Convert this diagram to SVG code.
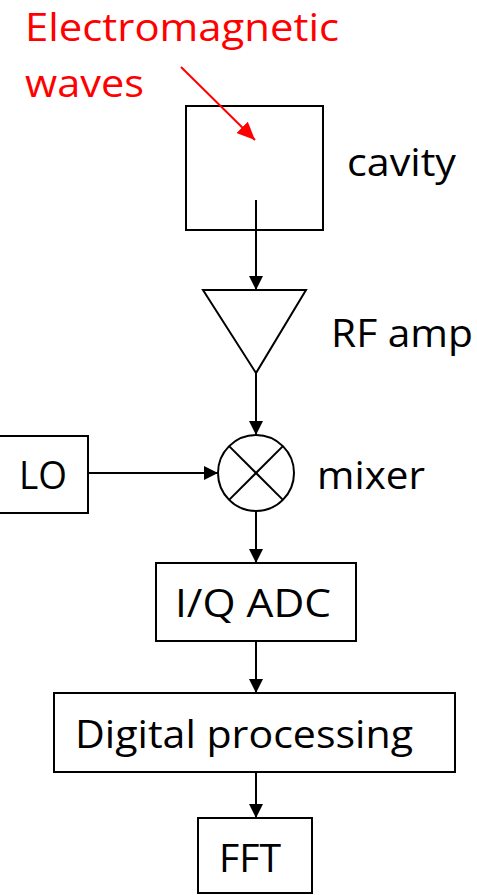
<svg xmlns="http://www.w3.org/2000/svg" width="477" height="895" viewBox="0 0 477 895">
<defs>
<style>
.box{fill:#fff;stroke:#000;stroke-width:2}
.ln{fill:none;stroke:#000;stroke-width:2}
.lbl{font-family:"Open Sans",Lato,"Liberation Sans",sans-serif;font-size:39px;fill:#000}
.red{font-family:"Open Sans",Lato,"Liberation Sans",sans-serif;font-size:38px;fill:#ff0000}
</style>
<marker id="ah" markerWidth="14" markerHeight="14" refX="14" refY="7" orient="auto" markerUnits="userSpaceOnUse" viewBox="0 0 14 14">
<path d="M0,0 L14,7 L0,14 z" fill="#000"/>
</marker>
<marker id="ahr" markerWidth="18" markerHeight="16" refX="18" refY="8" orient="auto" markerUnits="userSpaceOnUse" viewBox="0 0 18 16">
<path d="M0,0 L18,8 L0,16 z" fill="#ff0000"/>
</marker>
</defs>
<rect width="477" height="895" fill="#fff"/>
<g id="waves">
<text class="red" x="25" y="41" textLength="314" lengthAdjust="spacingAndGlyphs">Electromagnetic</text>
<text class="red" x="25" y="97" textLength="119" lengthAdjust="spacingAndGlyphs">waves</text>
</g>
<g id="cavity">
<rect class="box" x="186" y="106" width="137" height="124"/>
<text class="lbl" x="347" y="176" textLength="109" lengthAdjust="spacingAndGlyphs">cavity</text>
</g>
<g id="rfamp">
<polygon class="box" points="203,290 306,290 256,373"/>
<text class="lbl" x="331" y="347" textLength="142" lengthAdjust="spacingAndGlyphs">RF amp</text>
</g>
<g id="mixer">
<circle class="box" cx="256" cy="473" r="38"/>
<line class="ln" stroke-width="1.3" x1="229.1" y1="446.1" x2="282.9" y2="499.9"/>
<line class="ln" stroke-width="1.3" x1="282.9" y1="446.1" x2="229.1" y2="499.9"/>
<text class="lbl" x="317" y="489" textLength="108" lengthAdjust="spacingAndGlyphs">mixer</text>
</g>
<g id="lo">
<rect class="box" x="-5" y="436" width="93" height="77"/>
<text class="lbl" x="19" y="489" textLength="48" lengthAdjust="spacingAndGlyphs">LO</text>
</g>
<g id="adc">
<rect class="box" x="156" y="563" width="200" height="78"/>
<text class="lbl" x="175" y="617" textLength="156" lengthAdjust="spacingAndGlyphs">I/Q ADC</text>
</g>
<g id="dsp">
<rect class="box" x="54" y="693" width="401" height="79"/>
<text class="lbl" x="75" y="748" textLength="338" lengthAdjust="spacingAndGlyphs">Digital processing</text>
</g>
<g id="fft">
<rect class="box" x="198" y="818" width="114" height="75"/>
<text class="lbl" x="219" y="872" textLength="62" lengthAdjust="spacingAndGlyphs">FFT</text>
</g>
<g id="connectors">
<line x1="181" y1="67" x2="255" y2="140" stroke="#ff0000" stroke-width="2" marker-end="url(#ahr)"/>
<line class="ln" x1="256" y1="200" x2="256" y2="290" marker-end="url(#ah)"/>
<line class="ln" x1="256" y1="373" x2="256" y2="435" marker-end="url(#ah)"/>
<line class="ln" x1="88" y1="473" x2="218" y2="473" marker-end="url(#ah)"/>
<line class="ln" x1="256" y1="511" x2="256" y2="563" marker-end="url(#ah)"/>
<line class="ln" x1="256" y1="641" x2="256" y2="693" marker-end="url(#ah)"/>
<line class="ln" x1="256" y1="772" x2="256" y2="818" marker-end="url(#ah)"/>
</g>
</svg>
